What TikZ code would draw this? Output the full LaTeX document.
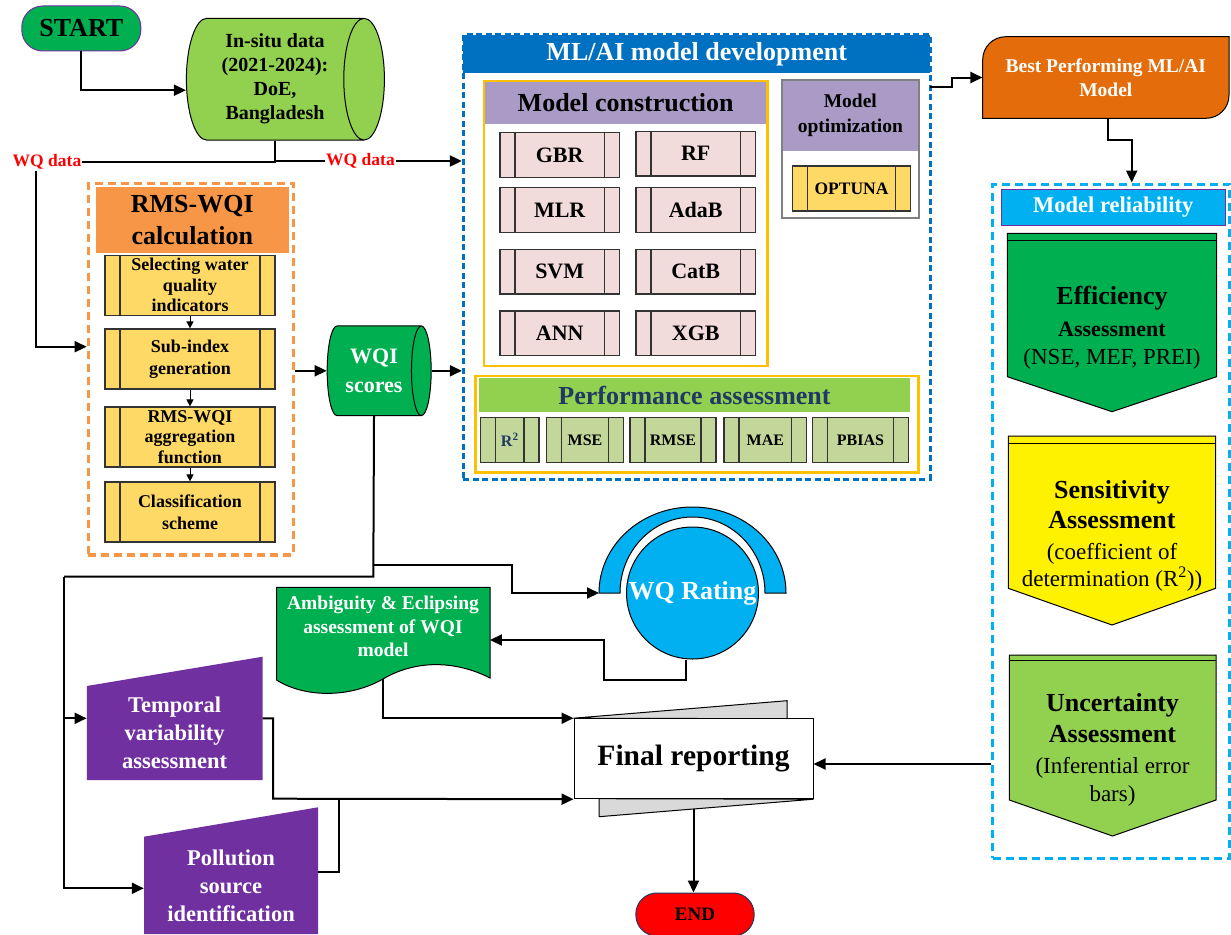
\documentclass[tikz,border=0pt]{standalone}
\usepackage{fontspec}
\setmainfont{Liberation Serif}
\usetikzlibrary{shapes.geometric,arrows.meta,positioning,backgrounds}

\definecolor{stgreen}{HTML}{00B050}
\definecolor{ltgreen}{HTML}{92D050}
\definecolor{purp}{HTML}{7030A0}
\definecolor{rmsorange}{HTML}{F79646}
\definecolor{subgold}{HTML}{FFD966}
\definecolor{mlblue}{HTML}{0070C0}
\definecolor{boxgold}{HTML}{FFC000}
\definecolor{lav}{HTML}{A99BC5}
\definecolor{algpink}{HTML}{F2DCDB}
\definecolor{optgray}{HTML}{808080}
\definecolor{metgreen}{HTML}{C4D79B}
\definecolor{navy}{HTML}{1F3864}
\definecolor{bestorange}{HTML}{E46C0A}
\definecolor{relblue}{HTML}{00B0F0}
\definecolor{flapgray}{HTML}{D9D9D9}

\newcommand{\fsz}[2]{\fontsize{#1pt}{#2pt}\selectfont\bfseries}

\tikzset{
  conn/.style={line width=2pt, -{Triangle[length=12pt,width=11pt]}},
  wire/.style={line width=2pt},
  minor/.style={line width=1pt, -{Triangle[length=7pt,width=7pt]}},
  pill/.style={rectangle, rounded corners=21pt, line width=1pt, inner sep=0pt},
  datacyl/.style={cylinder, shape aspect=0.45, draw, line width=1pt, align=center, inner sep=0pt},
  procbox/.style={draw=black!80, line width=1.2pt, align=center, inner sep=0pt,
    path picture={
      \draw[line width=1.2pt, black!80]
        ([xshift=15pt]path picture bounding box.north west) -- ([xshift=15pt]path picture bounding box.south west)
        ([xshift=-15pt]path picture bounding box.north east) -- ([xshift=-15pt]path picture bounding box.south east);}},
  algbox/.style={procbox, fill=algpink, minimum width=119.3pt, minimum height=44.5pt, font=\fsz{22}{26}},
  metbox/.style={procbox, fill=metgreen, minimum height=44.6pt, font=\fsz{16}{19}},
  wqlab/.style={text=red, font=\fsz{17.5}{20}, inner sep=1pt},
  rmsframe/.style={draw=rmsorange, line width=3.3pt, dash pattern=on 8pt off 5pt},
  mlframe/.style={draw=mlblue, line width=3pt, dash pattern=on 6pt off 3.5pt},
  relframe/.style={draw=relblue, line width=3pt, dash pattern=on 8pt off 5pt},
  goldframe/.style={draw=boxgold, line width=2.5pt},
  headbar/.style={inner sep=0pt, align=center},
  manualtext/.style={text=white, align=center, font=\fsz{22.5}{28}, inner sep=0pt},
  doctext/.style={text=white, align=center, font=\fsz{19.5}{23.5}, inner sep=0pt},
  arrowtext/.style={inner sep=0pt}
}

\begin{document}
\begin{tikzpicture}[x=1pt,y=-1pt,font=\bfseries]
\useasboundingbox (0,0) rectangle (1231,934);

% start and data
\node[pill, fill=stgreen, draw=purp, minimum width=119pt, minimum height=45pt, font=\fsz{26}{30}] (start) at (81.3,28.5) {START};
\node[datacyl, fill=ltgreen, minimum width=121.7pt, minimum height=198pt, font=\fsz{20}{24}] (insitu) at (275,79.2) {In-situ data\\(2021-2024):\\DoE,\\Bangladesh};
\node[wqlab] (wqL) at (47,162) {WQ data};
\node[wqlab] (wqR) at (360.5,161) {WQ data};

% RMS-WQI block
\node[fill=rmsorange, headbar, minimum width=193.3pt, minimum height=65.3pt, font=\fsz{26}{32}] (rmshead) at (192.3,220) {RMS-WQI\\calculation};
\node[rmsframe, minimum width=205pt, minimum height=371.7pt] (rmsbox) at (190.8,369.2) {};
\node[procbox, fill=subgold, minimum width=170pt, minimum height=60pt, font=\fsz{18}{20.5}] (sel) at (190,285.3) {Selecting water\\quality\\indicators};
\node[procbox, fill=subgold, minimum width=170pt, minimum height=60pt, font=\fsz{18}{21.5}] (subidx) at (190,359) {Sub-index\\generation};
\node[procbox, fill=subgold, minimum width=170pt, minimum height=60pt, font=\fsz{18}{20.5}] (aggr) at (190,437) {RMS-WQI\\aggregation\\function};
\node[procbox, fill=subgold, minimum width=170pt, minimum height=60pt, font=\fsz{18}{21.5}] (classif) at (190,512) {Classification\\scheme};
\draw[minor] (sel) -- (subidx);
\draw[minor] (subidx) -- (aggr);
\draw[minor] (aggr) -- (classif);

\node[datacyl, fill=stgreen, text=white, minimum width=89.7pt, minimum height=104pt, font=\fsz{22}{29}] (wqi) at (374,370.8) {WQI\\scores};

% ML/AI block
\node[fill=mlblue, headbar, text=white, minimum width=466.7pt, minimum height=38.3pt, font=\fsz{26}{30}] (mlhead) at (696.7,54.2) {ML/AI model development};
\node[mlframe, minimum width=466.7pt, minimum height=444pt] (mlbox) at (696.7,257) {};

\node[fill=lav, headbar, minimum width=281pt, minimum height=43.3pt, font=\fsz{26}{30}] (mchead) at (625.7,102.7) {Model construction};
\node[goldframe, minimum width=283.3pt, minimum height=285pt] (mcbox) at (625.7,223.5) {};
\node[algbox] (gbr) at (559.7,155) {GBR};
\node[algbox] (rf) at (695.7,153.7) {RF};
\node[algbox] (mlr) at (559.7,210) {MLR};
\node[algbox] (adab) at (695.7,210) {AdaB};
\node[algbox] (svm) at (559.7,271.7) {SVM};
\node[algbox] (catb) at (695.7,271.7) {CatB};
\node[algbox] (ann) at (559.7,333.3) {ANN};
\node[algbox] (xgb) at (695.7,333.3) {XGB};

\node[fill=lav, headbar, minimum width=135.3pt, minimum height=71pt, font=\fsz{19.5}{25}] (opthead) at (850.3,115.5) {Model\\optimization};
\node[draw=optgray, line width=2pt, minimum width=137.3pt, minimum height=137.7pt] (optbox) at (850.3,148.8) {};
\node[procbox, fill=subgold, minimum width=118.4pt, minimum height=45pt, font=\fsz{17.5}{20}] (optuna) at (851.5,188.5) {OPTUNA};

\node[fill=ltgreen, headbar, text=navy, minimum width=431pt, minimum height=33.4pt, font=\fsz{26}{30}] (perfhead) at (694.5,395) {Performance assessment};
\node[goldframe, minimum width=442.6pt, minimum height=96.7pt] (perfbox) at (697,424.3) {};
\node[metbox, minimum width=58.3pt, text=navy] (rsq) at (509.8,440) {R\textsuperscript{2}};
\node[metbox, minimum width=76.6pt] (mse) at (585,440) {MSE};
\node[metbox, minimum width=86pt] (rmse) at (673,440) {RMSE};
\node[metbox, minimum width=82.7pt] (mae) at (765.3,440) {MAE};
\node[metbox, minimum width=95.6pt] (pbias) at (860.5,440) {PBIAS};

% best model and reliability
\filldraw[fill=bestorange, line width=1pt] (982.7,118.3) -- (982.7,59.7) arc[start angle=180,end angle=90,radius=23pt] -- (1229,36.7) -- (1229,95.3) arc[start angle=0,end angle=-90,radius=23pt] -- cycle;
\node[text=white, headbar, minimum width=246.3pt, minimum height=81.6pt, font=\fsz{19.5}{23.5}] (best) at (1105.8,77.5) {Best Performing ML/AI\\Model};

\node[fill=relblue, draw=purp, line width=0.8pt, headbar, text=white, minimum width=223.3pt, minimum height=35.7pt, font=\fsz{22.5}{26}] (relhead) at (1113.3,207.2) {Model reliability};
\node[relframe, minimum width=236.8pt, minimum height=674.3pt] (relbox) at (1111.1,521.2) {};

\filldraw[fill=stgreen, line width=1pt] (1007.3,233.3) -- (1216.7,233.3) -- (1216.7,376.7) -- (1112,411.7) -- (1007.3,376.7) -- cycle;
\draw[line width=1pt] (1007.3,240) -- (1216.7,240);
\node[arrowtext] (eff) at (1112,328) {\begin{minipage}{205pt}\centering
  \fsz{26}{30}Efficiency\par
  \fsz{22}{32}Assessment\par
  \fsz{23}{28}\mdseries (NSE, MEF, PREI)\par\end{minipage}};

\filldraw[fill=yellow, line width=1pt] (1008.3,436) -- (1215.7,436) -- (1215.7,588.3) -- (1112,625) -- (1008.3,588.3) -- cycle;
\draw[line width=1pt] (1008.3,443.3) -- (1215.7,443.3);
\node[arrowtext] (sens) at (1112,536) {\begin{minipage}{205pt}\centering
  \fsz{26}{30}Sensitivity\par
  \fsz{26}{30}Assessment\par
  \fsz{23}{31.5}\mdseries (coefficient of\par
  \fsz{23}{27}\mdseries determination (R\textsuperscript{2}))\par\end{minipage}};

\filldraw[fill=ltgreen, line width=1pt] (1009.3,655) -- (1216,655) -- (1216,800) -- (1112.5,836) -- (1009.3,800) -- cycle;
\draw[line width=1pt] (1009.3,660.7) -- (1216,660.7);
\node[arrowtext] (unc) at (1112.5,750) {\begin{minipage}{205pt}\centering
  \fsz{26}{30}Uncertainty\par
  \fsz{26}{31}Assessment\par
  \fsz{23}{30.7}\mdseries (Inferential error\par
  \fsz{23}{28.3}\mdseries bars)\par\end{minipage}};

% rating and ambiguity
\filldraw[fill=relblue, line width=1pt] (599,593) arc[start angle=180,end angle=0,x radius=93.5pt,y radius=86pt] -- (765,593) arc[start angle=0,end angle=180,x radius=72.5pt,y radius=76pt] -- cycle;
\coordinate (arcL) at (599,593);
\node[circle, fill=relblue, draw, line width=1pt, minimum size=132pt, inner sep=0pt, text=white, font=\fsz{26}{30}] (rating) at (692.5,593) {\makebox[0pt]{WQ Rating}};

\filldraw[fill=stgreen, line width=1pt] (276.5,587.3) -- (490,587.3) -- (490,678) .. controls (455,660) and (415,660) .. (383,679) .. controls (350,698) and (305,698) .. (276.5,680) -- cycle;
\node[doctext, minimum width=213.5pt] (ambig) at (383,626.7) {Ambiguity \& Eclipsing\\assessment of WQI\\model};
\coordinate (ambigfoot) at (383,679);

% temporal and pollution
\fill[purp] (86.8,686) -- (262.5,656.7) -- (262.5,780) -- (86.8,780) -- cycle;
\node[manualtext, minimum width=175.7pt] (tempo) at (174.6,733) {Temporal\\variability\\assessment};
\fill[purp] (144,836.7) -- (318,807.3) -- (318,934) -- (144,934) -- cycle;
\node[manualtext, minimum width=174pt] (pollu) at (231,885.5) {Pollution\\source\\identification};

% final reporting and end
\node[draw, fill=white, line width=1pt, minimum width=239pt, minimum height=80pt, font=\fsz{29.5}{34}] (final) at (693.5,758.7) {Final reporting};
\node[pill, fill=red, draw=navy, minimum width=118.3pt, minimum height=43pt, font=\fsz{19}{22}] (endpill) at (695,914.5) {END};
\begin{pgfonlayer}{background}
\draw[conn] (final.south) -- (final.south |- endpill.north);
\filldraw[fill=flapgray, line width=1pt] (final.north west) -- (787,700.7) -- (787,718.7) -- cycle;
\filldraw[fill=flapgray, line width=1pt] (599,798.7) -- (599,816.7) -- (final.south east) -- cycle;
\end{pgfonlayer}

% connectors
\draw[conn] (start.south) |- ([yshift=-11pt]insitu.west);
\draw[wire] (insitu.south) |- (wqL.east);
\draw[wire] (insitu.south) |- (wqR.west);
\draw[conn] (wqR.east) -- (wqR.east -| mlbox.west);
\coordinate (wqbend) at (35.7,346.7);
\draw[conn] ([xshift=-11.3pt]wqL.south) -- (wqbend) -- (wqbend -| rmsbox.west);
\draw[conn] (rmsbox.east |- wqi.west) -- (wqi.west);
\draw[conn] (wqi.east) -- (wqi.east -| mlbox.west);

\coordinate (mlout) at (930,87.3);
\coordinate (mlstep) at (951.7,77.5);
\draw[conn] (mlout) -| (mlstep) -- (best.west);
\coordinate (bestbend) at (1131.7,140);
\draw[conn] ([xshift=2.5pt]best.south) |- (bestbend) -- (bestbend |- relbox.north);

\coordinate (splitA) at (373.3,565);
\coordinate (splitB) at (373.3,576.7);
\coordinate (rail) at (64,576.7);
\coordinate (ratingin) at (512,593);
\draw[wire] (wqi.south) -- (splitB) -- (rail);
\draw[conn] (splitA) -| (ratingin) -- (arcL);
\draw[conn] (rail) |- ([yshift=14.7pt]tempo.west);
\draw[conn] (rail) |- ([yshift=-2.8pt]pollu.west);

\coordinate (ratingout) at (604,680);
\draw[conn] ([xshift=-6.5pt]rating.south) |- (ratingout) |- ([yshift=-13.3pt]ambig.east);
\draw[conn] (ambigfoot) |- (final.north west);

\coordinate (tbend) at (273,798.7);
\draw[conn] ([yshift=14.7pt]tempo.east) -| (tbend) -- (final.south west);
\coordinate (pbend) at (339,798.7);
\draw[wire] ([yshift=14pt]pollu.east) -| (pbend);

\coordinate (finin) at ([yshift=-5.3pt]final.east);
\draw[conn] (relbox.west |- finin) -- (finin);
\end{tikzpicture}
\end{document}
